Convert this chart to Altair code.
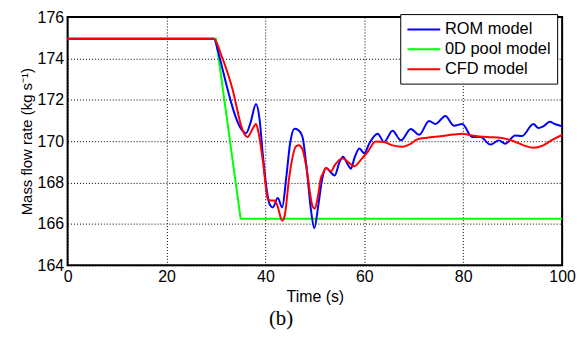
import altair as alt
import pandas as pd

# ROM model (blue)
rom_time = [0, 29.6, 30.4, 31.4, 32.4, 33.7, 35.1, 36.1, 37.0, 38.1, 38.8, 39.5, 40.3, 40.8, 41.5,
            42.5, 43.4, 44.2, 45.0, 45.9, 46.6, 47.5, 48.3, 49.2, 49.9, 50.7, 51.5, 52.3, 53.2,
            54.0, 55.0, 55.7, 56.6, 57.3, 58.0, 59.0, 60.0, 61.0, 62.7, 64.0, 65.7, 67.4, 69.4,
            71.1, 73.1, 74.4, 76.4, 78.1, 79.8, 81.8, 83.5, 85.5, 87.2, 88.5, 90.5, 91.9, 94.2,
            95.2, 96.2, 97.5, 98.5, 100]
rom_flow = [174.95, 174.95, 174.36, 173.42, 172.47, 171.37, 170.59, 170.39, 170.9, 171.8, 171.1,
            169.3, 167.6, 166.98, 166.8, 167.25, 166.8, 168.2, 169.9, 170.6, 170.55, 170.2, 168.8,
            166.7, 165.8, 166.9, 168.2, 168.7, 168.5, 168.34, 169.0, 169.25, 168.9, 168.67,
            169.18, 169.65, 169.42, 169.89, 170.36, 169.96, 170.51, 170.04, 170.59, 170.31,
            170.98, 170.83, 171.22, 170.75, 170.83, 170.2, 170.2, 169.84, 170.04, 169.88,
            170.28, 170.25, 170.83, 170.64, 170.72, 170.94, 170.83, 170.72]

# 0D pool model (green)
pool_time = [0, 30, 35, 100]
pool_flow = [174.95, 174.95, 166.25, 166.25]

# CFD model (red)
cfd_time = [0, 29.6, 31.0, 32.4, 33.4, 34.3, 35.1, 36.4, 37.4, 38.1, 38.6, 39.5, 40.5, 41.0,
            41.8, 42.4, 43.4, 43.9, 44.8, 46.2, 46.8, 47.5, 48.2, 49.6, 50.0, 50.6, 51.2, 51.7,
            52.2, 53.3, 54.0, 55.6, 56.6, 58.0, 59.3, 60.7, 62.3, 64.0, 65.7, 67.7, 69.4, 70.7,
            72.7, 75.4, 78.1, 79.8, 81.8, 84.8, 87.5, 90.2, 92.2, 94.2, 96.2, 98.2, 100]
cfd_flow = [174.95, 174.95, 174.21, 173.27, 172.47, 171.53, 170.74, 170.2, 170.59, 170.83, 170.43,
            169.02, 167.2, 167.13, 167.13, 166.9, 166.16, 166.4, 168.23, 169.75, 169.8, 169.6,
            168.86, 166.82, 166.74, 167.3, 168.2, 168.47, 168.7, 168.55, 168.83, 169.17, 169.02,
            168.79, 169.1, 169.49, 169.99, 169.96, 169.8, 169.73, 169.88, 170.09, 170.17,
            170.24, 170.32, 170.36, 170.28, 170.2, 170.17, 170.0, 169.8, 169.68, 169.8, 170.09,
            170.3]

models = ["ROM model", "0D pool model", "CFD model"]
colors = ["#0000FF", "#00FF00", "#FF0000"]

rows = []
for t, v in zip(rom_time, rom_flow):
    rows.append({"time": t, "flow": v, "model": "ROM model"})
for t, v in zip(pool_time, pool_flow):
    rows.append({"time": t, "flow": v, "model": "0D pool model"})
for t, v in zip(cfd_time, cfd_flow):
    rows.append({"time": t, "flow": v, "model": "CFD model"})
df = pd.DataFrame(rows)

x_ticks = [0, 20, 40, 60, 80, 100]
y_ticks = [164, 166, 168, 170, 172, 174, 176]

x = alt.X("time:Q", scale=alt.Scale(domain=[0, 100], nice=False),
          axis=alt.Axis(values=x_ticks, title="Time (s)", labelPadding=3, titlePadding=4,
                        labelFlush=False))
y = alt.Y("flow:Q", scale=alt.Scale(domain=[164, 176], nice=False, zero=False),
          axis=alt.Axis(values=y_ticks, title="Mass flow rate (kg s⁻¹)", labelPadding=4,
                        titlePadding=3, titleFontSize=15, labelFlush=False))
color = alt.Color("model:N", scale=alt.Scale(domain=models, range=colors),
                  legend=alt.Legend(title=None, orient="none", legendX=335, legendY=-3,
                                    fillColor="white", strokeColor="black", padding=6,
                                    symbolType="M-1,0H3", symbolSize=272, symbolStrokeWidth=2,
                                    labelOffset=20, labelFont="Liberation Sans", labelFontSize=16.5,
                                    labelColor="black", rowPadding=2))

base = alt.Chart(df)
green = base.transform_filter(alt.datum.model == "0D pool model").mark_line(
    strokeWidth=2, interpolate="linear").encode(x=x, y=y, color=color)
blue = base.transform_filter(alt.datum.model == "ROM model").mark_line(
    strokeWidth=2, interpolate="monotone").encode(x=x, y=y, color=color)
red = base.transform_filter(alt.datum.model == "CFD model").mark_line(
    strokeWidth=2, interpolate="monotone").encode(x=x, y=y, color=color)

chart = alt.layer(green, blue, red).properties(
    width=498, height=250,
    autosize=alt.AutoSizeParams(type="none"),
    padding={"left": 60, "top": 8, "right": 16, "bottom": 65},
    title=alt.TitleParams("(b)", orient="bottom", font="Liberation Serif", fontSize=21,
                          fontWeight="normal", color="black", dx=-34, offset=4),
).configure_view(stroke="black", strokeWidth=2).configure_axis(
    labelFont="Liberation Sans", labelFontSize=16, labelColor="black",
    titleFont="Liberation Sans", titleFontSize=16, titleFontWeight="normal", titleColor="black",
    ticks=False, domain=False, grid=True, gridColor="black", gridDash=[1, 2], gridWidth=1,
    gridOpacity=1,
)

chart.save("out.html", embed_options={"renderer": "svg", "actions": False})
